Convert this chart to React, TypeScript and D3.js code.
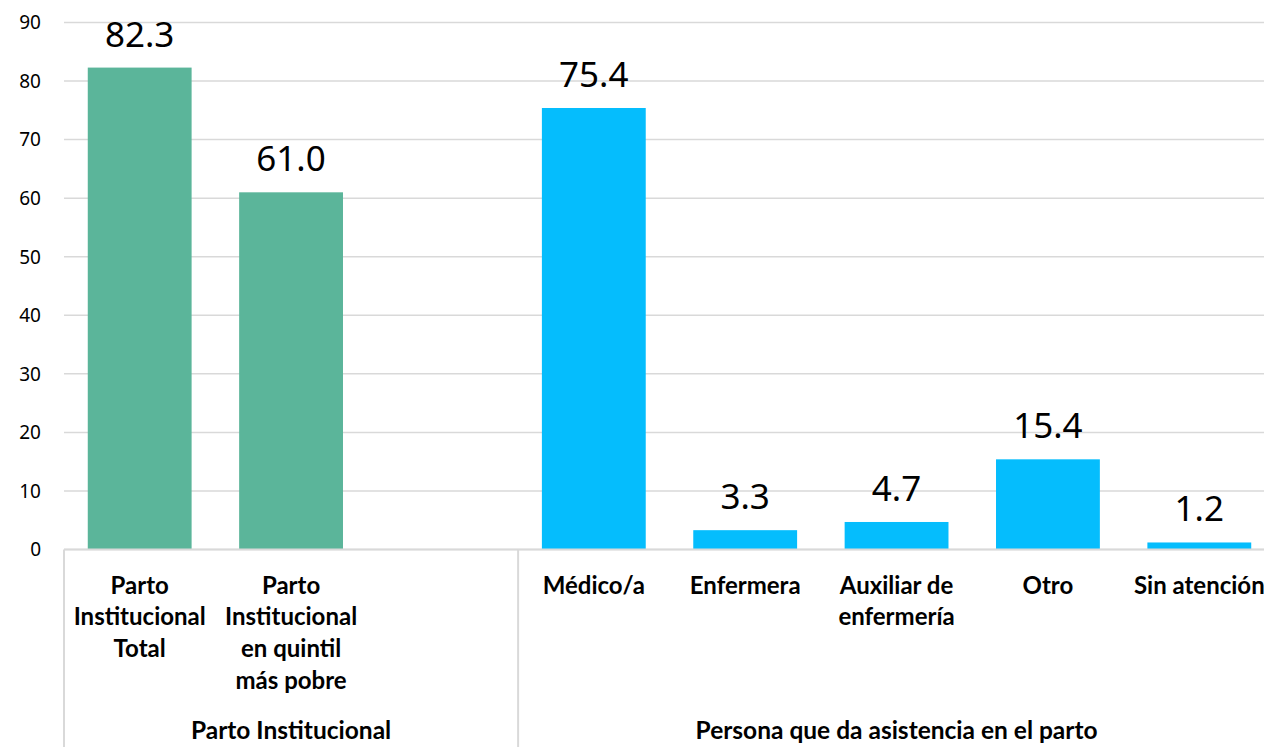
import React from 'react';
import * as d3 from 'd3';

// categories (the empty slot is the gap Excel leaves between the two groups)
const categories = ['total', 'quintil', 'gap', 'medico', 'enfermera', 'auxiliar', 'otro', 'sin'];
const categoryLabels = [
  ['Parto', 'Institucional', 'Total'],
  ['Parto', 'Institucional', 'en quintil', 'más pobre'],
  [],
  ['Médico/a'],
  ['Enfermera'],
  ['Auxiliar de', 'enfermería'],
  ['Otro'],
  ['Sin atención'],
];
const values = [82.3, 61.0, null, 75.4, 3.3, 4.7, 15.4, 1.2];
const barColors = ['#5BB59A', '#5BB59A', null, '#05BDFD', '#05BDFD', '#05BDFD', '#05BDFD', '#05BDFD'];
const groups = [
  { label: 'Parto Institucional', from: 'total', to: 'gap' },
  { label: 'Persona que da asistencia en el parto', from: 'medico', to: 'sin' },
];
const yTicks = [0, 10, 20, 30, 40, 50, 60, 70, 80, 90];

const W = 1264;
const H = 747;

export default function App() {
  const margin = { top: 22.5, left: 64, bottom: 197.5 };
  const plotRight = 1275; // chart runs past the window edge, like the original

  const x = d3.scaleBand<string>()
    .domain(categories)
    .range([margin.left, plotRight])
    .paddingInner(0.314)
    .paddingOuter(0.157);

  const y = d3.scaleLinear()
    .domain([0, 90])
    .range([H - margin.bottom, margin.top]);

  const step = x.step();
  const slotLeft = (c: string) => (x(c) as number) - step * 0.157;
  const y0 = y(0);

  const valueFont = "'Noto Sans', 'Open Sans', sans-serif";
  const catFont = "Lato, 'Open Sans', sans-serif";

  return (
    <svg width={W} height={H} style={{ position: 'absolute', left: 0, top: 0, background: '#fff' }}>
      {/* gridlines */}
      {yTicks.map(t => (
        <line key={'g' + t} x1={margin.left} x2={plotRight} y1={y(t)} y2={y(t)}
          stroke="#D9D9D9" strokeWidth={1.5} />
      ))}
      {/* y tick labels */}
      {yTicks.map(t => (
        <text key={'t' + t} x={41} y={y(t)} dy="0.36em" textAnchor="end"
          fontFamily={valueFont} fontSize={19} fill="#000">{t}</text>
      ))}
      {/* bars */}
      {categories.map((c, i) => values[i] == null ? null : (
        <rect key={'b' + c} x={x(c)} width={x.bandwidth()} y={y(values[i] as number)}
          height={y0 - y(values[i] as number)} fill={barColors[i] as string} />
      ))}
      {/* value labels */}
      {categories.map((c, i) => values[i] == null ? null : (
        <text key={'v' + c} x={(x(c) as number) + x.bandwidth() / 2} y={y(values[i] as number) - 21}
          textAnchor="middle" fontFamily={valueFont} fontSize={35} fill="#000">
          {(values[i] as number).toFixed(1)}
        </text>
      ))}
      {/* category axis */}
      <line x1={margin.left} x2={plotRight} y1={y0} y2={y0} stroke="#D9D9D9" strokeWidth={2} />
      {groups.map(g => (
        <line key={'s' + g.from} x1={slotLeft(g.from)} x2={slotLeft(g.from)} y1={y0} y2={H}
          stroke="#D9D9D9" strokeWidth={2} />
      ))}
      <line x1={plotRight} x2={plotRight} y1={y0} y2={H} stroke="#D9D9D9" strokeWidth={2} />
      {categories.map((c, i) => (
        <text key={'c' + c} x={(x(c) as number) + x.bandwidth() / 2} y={y0 + 44}
          textAnchor="middle" fontFamily={catFont} fontWeight="bold" fontSize={24} fill="#000">
          {categoryLabels[i].map((line, j) => (
            <tspan key={j} x={(x(c) as number) + x.bandwidth() / 2} dy={j === 0 ? 0 : 31.7}>{line}</tspan>
          ))}
        </text>
      ))}
      {groups.map(g => {
        const left = slotLeft(g.from);
        const right = slotLeft(g.to) + step;
        return (
          <text key={'gl' + g.from} x={(left + right) / 2} y={739} textAnchor="middle"
            fontFamily={catFont} fontWeight="bold" fontSize={24.5} fill="#000">{g.label}</text>
        );
      })}
    </svg>
  );
}
